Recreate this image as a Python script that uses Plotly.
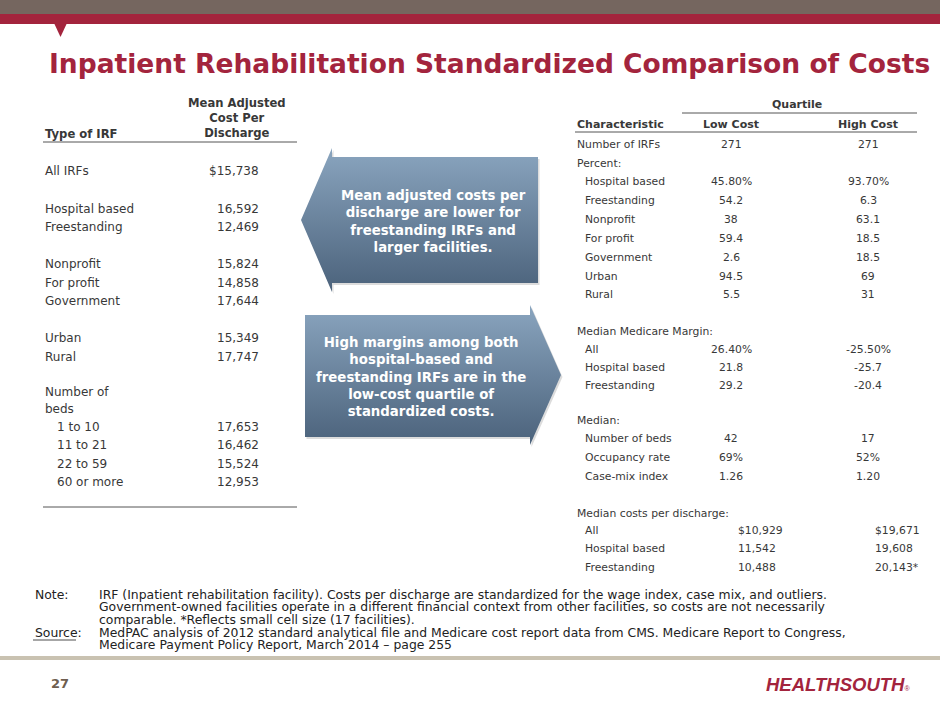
import plotly.graph_objects as go

# ---- data -------------------------------------------------------------
title = "Inpatient Rehabilitation Standardized Comparison of Costs"

# left table: mean adjusted cost per discharge
irf_types = ["All IRFs", "Hospital based", "Freestanding", "Nonprofit", "For profit",
             "Government", "Urban", "Rural", "1 to 10", "11 to 21", "22 to 59", "60 or more"]
irf_costs = [15738, 16592, 12469, 15824, 14858, 17644, 15349, 17747,
             17653, 16462, 15524, 12953]

# right table: low cost vs high cost quartile
quartiles = ["Low Cost", "High Cost"]
n_irfs = ["271", "271"]
pct_labels = ["Hospital based", "Freestanding", "Nonprofit", "For profit",
              "Government", "Urban", "Rural"]
pct_low = ["45.80%", "54.2", "38", "59.4", "2.6", "94.5", "5.5"]
pct_high = ["93.70%", "6.3", "63.1", "18.5", "18.5", "69", "31"]
margin_labels = ["All", "Hospital based", "Freestanding"]
margin_low = ["26.40%", "21.8", "29.2"]
margin_high = ["-25.50%", "-25.7", "-20.4"]
median_labels = ["Number of beds", "Occupancy rate", "Case-mix index"]
median_low = ["42", "69%", "1.26"]
median_high = ["17", "52%", "1.20"]
cost_labels = ["All", "Hospital based", "Freestanding"]
cost_low = ["$10,929", "11,542", "10,488"]
cost_high = ["$19,671", "19,608", "20,143*"]

callouts = ["Mean adjusted costs per<br>discharge are lower for<br>freestanding IRFs and<br>larger facilities.",
            "High margins among both<br>hospital-based and<br>freestanding IRFs are in the<br>low-cost quartile of<br>standardized costs."]

note_lines = [
    "IRF (Inpatient rehabilitation facility). Costs per discharge are standardized for the wage index, case mix, and outliers.",
    "Government-owned facilities operate in a different financial context from other facilities, so costs are not necessarily",
    "comparable. *Reflects small cell size (17 facilities).",
]
source_lines = [
    "MedPAC analysis of 2012 standard analytical file and Medicare cost report data from CMS. Medicare Report to Congress,",
    "Medicare Payment Policy Report, March 2014 \u2013 page 255",
]

# ---- styles -----------------------------------------------------------
CRIMSON = "#A3243D"
TXT = "#383838"
BODY = "DejaVu Sans, sans-serif"

fig = go.Figure()
ann = []


def txt(x, y, s, size=12, color=TXT, bold=False, align="left", family=BODY):
    if bold:
        s = "<b>" + s + "</b>"
    ann.append(dict(x=x, y=y, xref="x", yref="y", text=s, showarrow=False,
                    xanchor=align, yanchor="middle", align=align,
                    font=dict(size=size, color=color, family=family)))


shapes = []


def hline(x0, x1, y, color="#555555", w=1):
    shapes.append(dict(type="line", xref="x", yref="y", x0=x0, x1=x1, y0=y, y1=y,
                       line=dict(color=color, width=w)))


# header bands
shapes.append(dict(type="rect", xref="x", yref="y", x0=0, x1=940, y0=0, y1=14,
                   fillcolor="#75665F", line_width=0))
shapes.append(dict(type="rect", xref="x", yref="y", x0=0, x1=940, y0=14, y1=24,
                   fillcolor=CRIMSON, line_width=0))
shapes.append(dict(type="path", xref="x", yref="y", path="M 54 23 L 67 23 L 60.5 37 Z",
                   fillcolor=CRIMSON, line_width=0))

txt(47, 63, title, size=26.5, color=CRIMSON, bold=True)

# ---- left table -------------------------------------------------------
LS = 12
txt(237, 118, "Mean Adjusted<br>Cost Per<br>Discharge", size=11.6, bold=True, align="center")
txt(43, 134, "Type of IRF", size=11.6, bold=True)
hline(43, 297, 142)
left_y = [171, 208.5, 227, 264, 282.5, 301, 338, 356.5, 426.5, 445, 463.5, 482]
for i, (lab, val) in enumerate(zip(irf_types, irf_costs)):
    x = 55 if i >= 8 else 43
    s = ("$" if i == 0 else "") + f"{val:,}"
    txt(x, left_y[i], lab, size=LS)
    txt(261, left_y[i], s, size=LS, align="right")
txt(43, 392, "Number of", size=LS)
txt(43, 409, "beds", size=LS)
hline(43, 297, 507)

# ---- right table ------------------------------------------------------
RS = 10.8
LX, SX, LOWX, HIGHX = 575, 583, 731, 868
txt(797, 104, "Quartile", size=11, bold=True, align="center")
hline(682, 917, 113)
txt(LX, 124, "Characteristic", size=11, bold=True)
txt(LOWX, 124, quartiles[0], size=11, bold=True, align="center")
txt(HIGHX, 124, quartiles[1], size=11, bold=True, align="center")
hline(LX, 917, 132)

txt(LX, 144, "Number of IRFs", size=RS)
txt(LOWX, 144, n_irfs[0], size=RS, align="center")
txt(HIGHX, 144, n_irfs[1], size=RS, align="center")
txt(LX, 163, "Percent:", size=RS)


def block(y0, step, labels, low, high, align="center", lowx=LOWX, highx=HIGHX):
    for i, (lab, a, b) in enumerate(zip(labels, low, high)):
        y = y0 + i * step
        txt(SX, y, lab, size=RS)
        txt(lowx, y, a, size=RS, align=align)
        txt(highx, y, b, size=RS, align=align)


block(181.5, 18.9, pct_labels, pct_low, pct_high)
txt(LX, 331.5, "Median Medicare Margin:", size=RS)
block(349, 18, margin_labels, margin_low, margin_high)
txt(LX, 420, "Median:", size=RS)
block(438.5, 18.8, median_labels, median_low, median_high)
txt(LX, 513, "Median costs per discharge:", size=RS)
block(530.5, 18.4, cost_labels, cost_low, cost_high, align="left", lowx=736, highx=873)

# ---- callout arrows ---------------------------------------------------
arrow_left = ([538, 332, 332, 301, 332, 332, 538, 538],
              [157, 157, 148, 220, 292, 283, 283, 157])
arrow_right = ([305, 530, 530, 561, 530, 530, 305, 305],
               [315, 315, 305, 375, 445, 437, 437, 315])
for ax, ay in (arrow_left, arrow_right):
    fig.add_trace(go.Scatter(
        x=[v + 1.5 for v in ax], y=[v + 2 for v in ay], mode="lines", fill="toself",
        fillcolor="rgba(60,60,60,0.18)", line=dict(width=0), hoverinfo="skip",
        showlegend=False))
    fig.add_trace(go.Scatter(
        x=ax, y=ay, mode="lines", fill="toself", line=dict(width=0, color="#5b7390"),
        fillgradient=dict(type="vertical", colorscale=[[0, "#4B627B"], [1, "#8AA5BF"]]),
        hoverinfo="skip", showlegend=False))

ann.append(dict(x=433, y=221, xref="x", yref="y", text="<b>" + callouts[0] + "</b>",
                showarrow=False, align="center", xanchor="center", yanchor="middle",
                font=dict(size=13.3, color="white", family=BODY)))
ann.append(dict(x=421, y=377, xref="x", yref="y", text="<b>" + callouts[1] + "</b>",
                showarrow=False, align="center", xanchor="center", yanchor="middle",
                font=dict(size=13.3, color="white", family=BODY)))

# ---- notes ------------------------------------------------------------
NOTE = "#222222"
NS = 12.4
txt(33, 594, "Note:", size=NS, color=NOTE)
for i, line in enumerate(note_lines):
    txt(97, 594 + i * 12.7, line, size=NS, color=NOTE)
txt(33, 632, "Source:", size=NS, color=NOTE)
hline(33, 76, 640, color=NOTE, w=0.8)
for i, line in enumerate(source_lines):
    txt(97, 632 + i * 12.7, line, size=NS, color=NOTE)

# footer
hline(0, 940, 658, color="#C9C2B1", w=4)
txt(60, 683, "27", size=13, color="#6E5E50", bold=True, align="center")
txt(912, 684, "<i><b>HEALTHSOUTH</b></i><span style='font-size:7px'>®</span>", size=18.5,
    color=CRIMSON, align="right", family="Liberation Sans, Arial, sans-serif")

fig.update_layout(
    width=940, height=705, margin=dict(l=0, r=0, t=0, b=0),
    paper_bgcolor="white", plot_bgcolor="white",
    xaxis=dict(range=[0, 940], visible=False, fixedrange=True),
    yaxis=dict(range=[705, 0], visible=False, fixedrange=True),
    shapes=shapes, annotations=ann, showlegend=False,
)

fig.write_html("out.html", config={"displayModeBar": False},
               post_script="document.body.style.margin='0px';document.body.style.overflow='hidden';")
